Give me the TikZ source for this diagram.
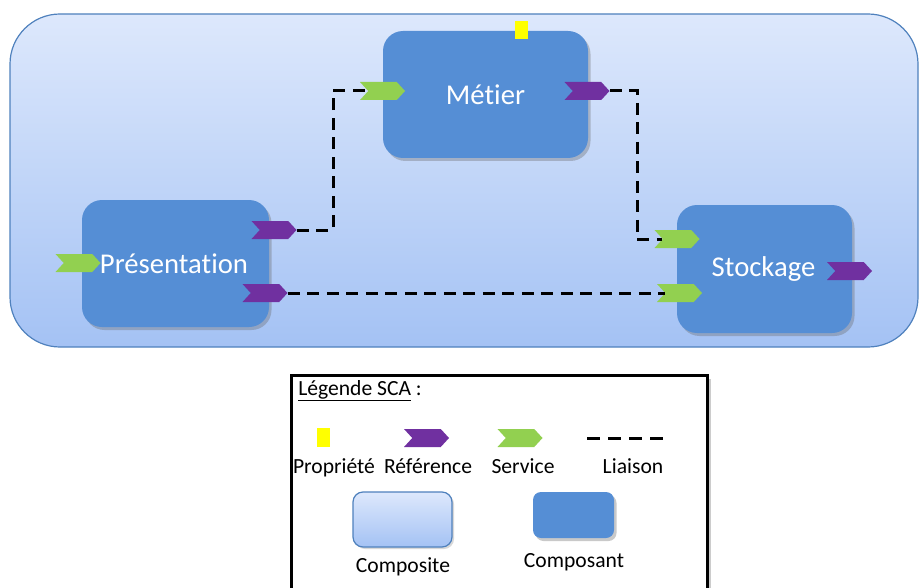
\documentclass[tikz,border=0pt]{standalone}
\usepackage{fontspec}
\setmainfont{Carlito}[Ligatures=CommonOff]
\usetikzlibrary{shapes.symbols,shadows}
\newlength\pxu
\setlength\pxu{0.75pt}
\definecolor{compfill}{HTML}{558ED5}
\definecolor{compline}{HTML}{4F81BD}
\definecolor{cotop}{HTML}{DDE8FC}
\definecolor{cobot}{HTML}{A4C2F4}
\definecolor{refcol}{HTML}{7030A0}
\definecolor{srvcol}{HTML}{92D050}
\definecolor{propcol}{HTML}{FFFF00}
\tikzset{
  composite/.style={draw=compline, line width=1.2\pxu, top color=cotop, bottom color=cobot, rectangle, rounded corners=#1},
  composant/.style={fill=compfill, rectangle, rounded corners=20\pxu, text=white, font=\fontsize{21.5}{24}\selectfont,
     drop shadow={shadow xshift=2.5\pxu, shadow yshift=-3\pxu, opacity=0.35, fill=black!60}},
  chev/.style={signal, signal to=east, signal from=west, signal pointer angle=95, inner sep=0pt,
     minimum width=45\pxu, minimum height=18\pxu, draw=none},
  refchev/.style={chev, fill=refcol},
  srvchev/.style={chev, fill=srvcol},
  propbox/.style={fill=propcol, rectangle, inner sep=0pt, minimum width=13\pxu, minimum height=18\pxu},
  liaison/.style={draw=black, line width=3\pxu, dash pattern=on 12\pxu off 7.5\pxu},
  legtext/.style={anchor=base, inner sep=0pt, font=\fontsize{16.2}{19}\selectfont},
}
\begin{document}
\begin{tikzpicture}[x=0.75pt,y=-0.75pt]
\useasboundingbox (0,0) rectangle (920,588);
% outer composite
\node[composite=50\pxu, minimum width=908\pxu, minimum height=333\pxu, inner sep=0pt] (outer) at (464,180.5) {};
% components
\node[composant, minimum width=205\pxu, minimum height=127\pxu, inner sep=0pt] (metier) at (485.5,94.5) {Métier};
\node[composant, minimum width=187\pxu, minimum height=127\pxu, inner sep=0pt] (pres) at (175.5,263.5) {\hspace*{-3\pxu}Présentation};
\node[composant, minimum width=175\pxu, minimum height=128\pxu, inner sep=0pt] (stock) at (764.5,269) {\raisebox{-3\pxu}{Stockage}\hspace*{2\pxu}};
% property
\node[propbox] (mprop) at (521.5,30) {};
% chevrons
\node[srvchev] (gm) at (382.5,91) {};
\node[refchev] (rm) at (587,91) {};
\node[refchev] (rp1) at (274,230) {};
\node[refchev] (rp2) at (265,293) {};
\node[srvchev] (gp) at (78,263) {};
\node[srvchev] (gs1) at (677,239) {};
\node[srvchev] (gs2) at (679.5,293) {};
\node[refchev] (rs) at (849.5,271) {};
% junction coordinates
\coordinate (j1) at (333,160);
\coordinate (j2) at (637,160);
% wires
\draw[liaison] (rp1.east) -| (j1) |- (gm.west);
\draw[liaison] (rm.east) -| (j2) |- (gs1.west);
\draw[liaison] (rp2.east) -- (gs2.west);
% legend
\node[draw=black, line width=3\pxu, fill=white, rectangle, inner sep=0pt, anchor=north west,
      minimum width=416\pxu, minimum height=240\pxu,
      drop shadow={shadow xshift=3\pxu, shadow yshift=-3\pxu, opacity=0.4, fill=black!50}] (legend) at (290,374) {};
\node[legtext, anchor=base west] (legtitle) at (298,395) {\underline{Légende SCA} :};
\node[propbox, minimum height=19\pxu] (lprop) at (323.5,437.5) {};
\node[refchev] (lref) at (426.5,438) {};
\node[srvchev] (lsrv) at (520,438) {};
\coordinate (ll1) at (587,438);
\coordinate (ll2) at (663,438);
\draw[liaison, dash pattern=on 13\pxu off 8\pxu] (ll1) -- (ll2);
\node[legtext] (tprop) at (334,473) {Propriété};
\node[legtext] (tref) at (428,473) {Référence};
\node[legtext] (tsrv) at (523,473) {Service};
\node[legtext] (tlia) at (633,473) {Liaison};
\node[composite=10\pxu, minimum width=99\pxu, minimum height=55\pxu, inner sep=0pt,
      drop shadow={shadow xshift=2\pxu, shadow yshift=-2\pxu, opacity=0.3, fill=black!50}] (lcomposite) at (402.5,519.5) {};
\node[composant, rounded corners=8\pxu, minimum width=81\pxu, minimum height=46\pxu, inner sep=0pt] (lcomposant) at (573.5,515) {};
\node[legtext] (tcomposite) at (403,572) {Composite};
\node[legtext] (tcomposant) at (574,567) {Composant};
\end{tikzpicture}
\end{document}
